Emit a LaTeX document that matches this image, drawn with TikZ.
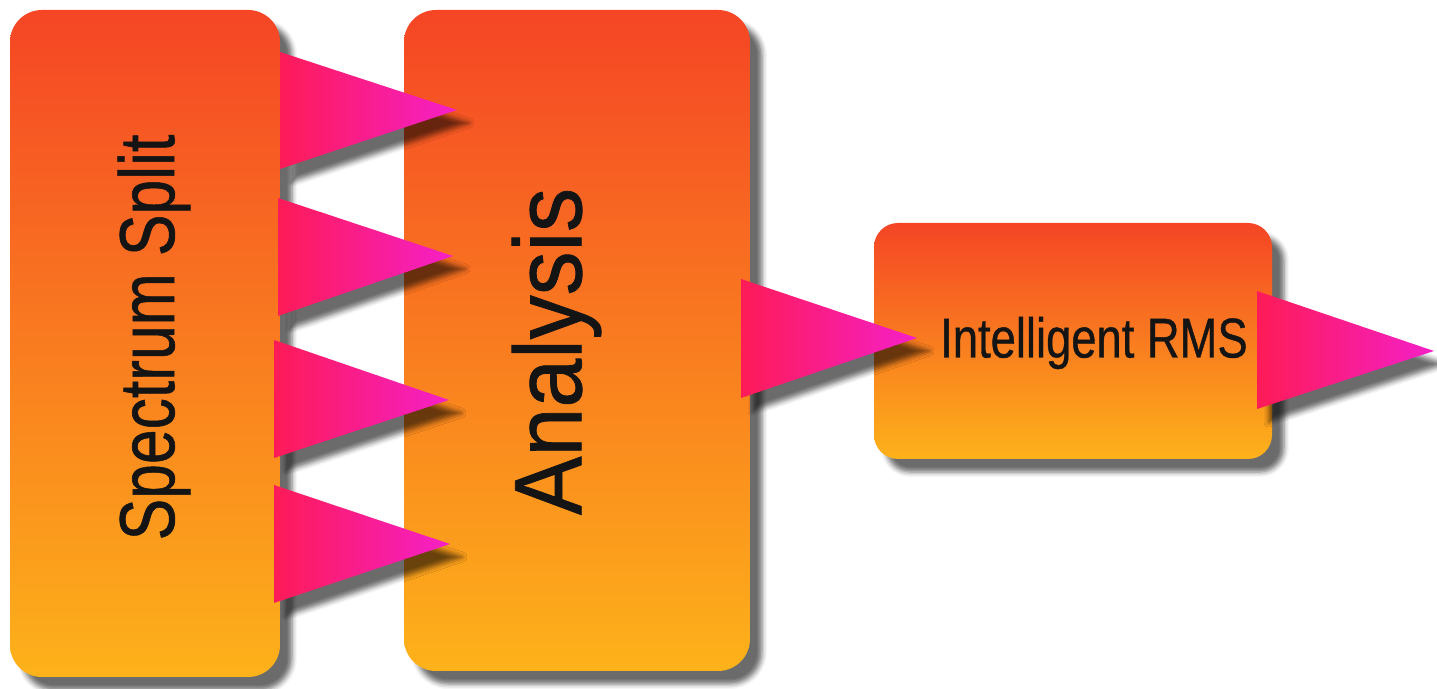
\documentclass[tikz,border=0pt]{standalone}
\usepackage{fontspec}
\setmainfont{Liberation Sans}
\newfontfamily\lblfont[FakeBold=0.8]{Liberation Sans}
\usetikzlibrary{shadows.blur}
\definecolor{boxtop}{HTML}{F54525}
\definecolor{boxbot}{HTML}{FDB21A}
\definecolor{tril}{HTML}{FD1B57}
\definecolor{trir}{HTML}{F520C8}
\definecolor{ink}{HTML}{141414}
\begin{document}
\begin{tikzpicture}[x=0.5pt,y=-0.5pt,
  sh/.style={blur shadow={shadow xshift=6pt,shadow yshift=-6.5pt,shadow blur radius=2.5pt,shadow opacity=58}},
  box/.style={sh, top color=boxtop, bottom color=boxbot, draw=none, inner sep=0pt},
  tri/.style={sh, left color=tril, right color=trir},
  lbl/.style={text=ink, inner sep=0pt}]
\useasboundingbox (0,0) rectangle (1437,689);
\node[box, rounded corners=16pt, minimum width=135pt, minimum height=333.5pt] (split) at (145,343.5) {};
\node[box, rounded corners=16pt, minimum width=173pt, minimum height=330.5pt] (analysis) at (577,340.5) {};
\node[box, rounded corners=12pt, minimum width=199pt, minimum height=118pt] (rms) at (1073,341) {};
\node[lbl, rotate=90, font=\lblfont\fontsize{39}{39}\selectfont] (splitlbl) at (154,337.5) {\scalebox{0.8}[1]{Spectrum Split}};
\node[lbl, rotate=90, font=\lblfont\fontsize{48}{48}\selectfont] (analysislbl) at (556.5,351.5) {\scalebox{0.915}[1]{Analysis}};
\node[lbl, font=\lblfont\fontsize{28}{28}\selectfont] (rmslbl) at (1094,343) {\scalebox{0.81}[1]{Intelligent RMS}};
\path[tri] (280,52) -- (457,110) -- (280,169) -- cycle;
\path[tri] (278,198) -- (453,256) -- (278,316) -- cycle;
\path[tri] (274,340) -- (449,400) -- (274,458) -- cycle;
\path[tri] (274,485) -- (450,544) -- (274,603) -- cycle;
\path[tri] (741,279) -- (917,338) -- (741,398) -- cycle;
\path[tri] (1257,291) -- (1434,351) -- (1257,409) -- cycle;
\end{tikzpicture}
\end{document}
